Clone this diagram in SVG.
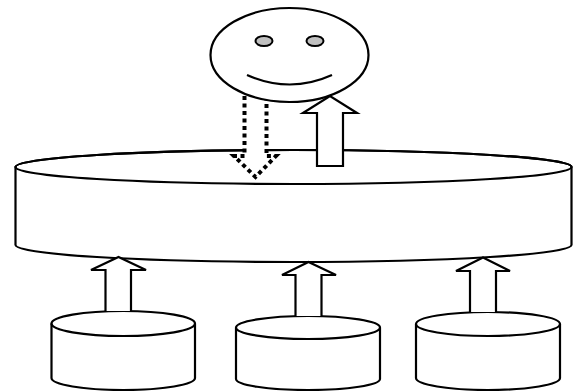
<svg xmlns="http://www.w3.org/2000/svg" width="574" height="391" viewBox="0 0 574 391">
<style>
.s{fill:#fff;stroke:#000;stroke-width:2.200}
.n{fill:none;stroke:#000;stroke-width:2.200}
.e{fill:#c0c0c0;stroke:#000;stroke-width:2}
.d{fill:#fff;stroke:#000;stroke-width:4;stroke-dasharray:4 3.500}
</style>
<rect width="574" height="391" fill="#fff"/>
<g id="store-main">
<path class="s" d="M15.500 167V245A278 17 0 0 0 571.500 245V167A278 17 0 0 0 15.500 167Z"/>
<ellipse class="n" cx="293.500" cy="167" rx="278" ry="17"/>
</g>
<g id="source-1">
<path class="s" d="M51.500 323.500V378A71.750 12 0 0 0 195 378V323.500A71.750 12.500 0 0 0 51.500 323.500Z"/>
<path class="n" d="M51.500 323.500A71.750 12.500 0 0 0 195 323.500"/>
</g>
<g id="source-2">
<path class="s" d="M236 327.500V379A72 11 0 0 0 380 379V327.500A72 11.500 0 0 0 236 327.500Z"/>
<path class="n" d="M236 327.500A72 11.500 0 0 0 380 327.500"/>
</g>
<g id="source-3">
<path class="s" d="M416 324V378A72 12 0 0 0 560 378V324A72 12 0 0 0 416 324Z"/>
<path class="n" d="M416 324A72 12 0 0 0 560 324"/>
</g>
<g id="connectors">
<path class="s" d="M105.500 311V270H91L118.500 257L146 270H131V311"/>
<path class="s" d="M295.500 316V275H282L308.500 262L336 275H321.500V316"/>
<path class="s" d="M470 312V271H456L483 257.500L510 271H496V312"/>
<path class="s" d="M317 166V113H303L330 96L357 113H343V166Z"/>
<path class="d" d="M244.500 96V156H234L255.500 177L276 156H266.500V96"/>
</g>
<g id="face">
<ellipse class="s" cx="289.500" cy="55" rx="79" ry="47"/>
<ellipse class="e" cx="264" cy="41" rx="8.500" ry="5"/>
<ellipse class="e" cx="315" cy="41" rx="8.500" ry="5"/>
<path class="n" d="M247 75Q290 94 332 75"/>
</g>
</svg>
